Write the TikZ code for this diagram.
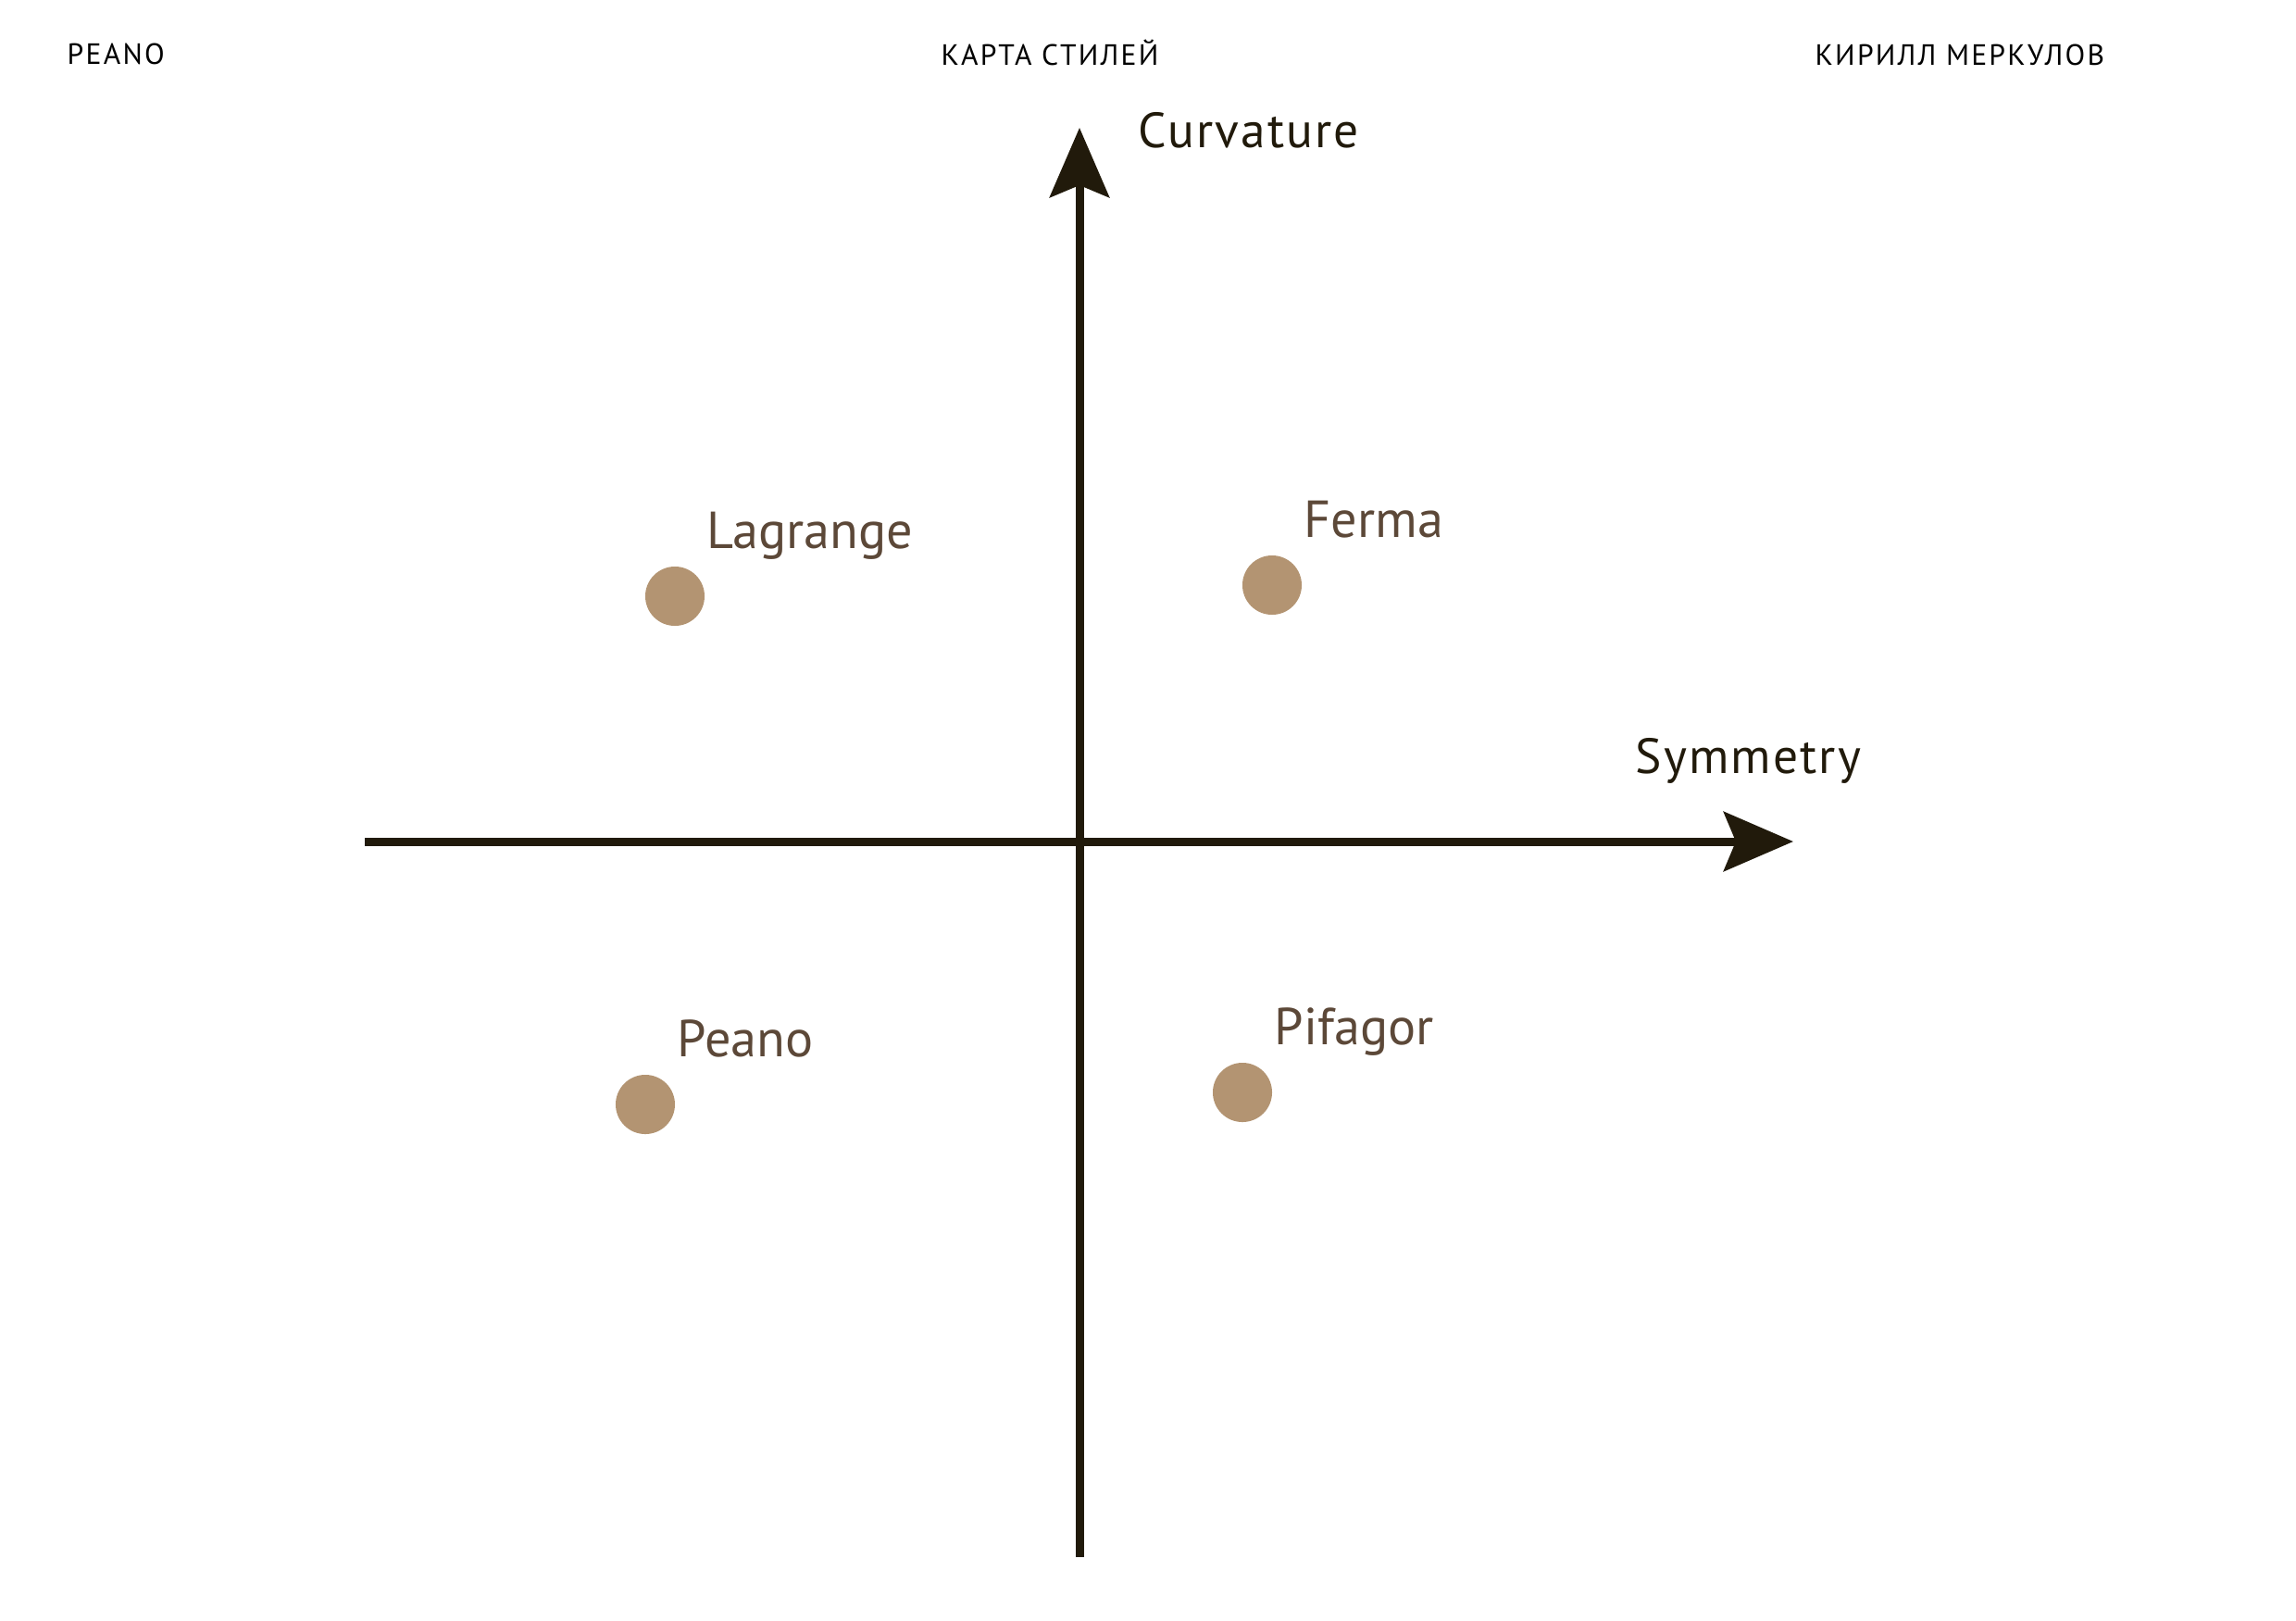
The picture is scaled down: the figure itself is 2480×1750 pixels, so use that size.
\documentclass[tikz,border=0pt]{standalone}
\usepackage{fontspec}
\setmainfont{PT Sans}
\usetikzlibrary{arrows.meta}
\definecolor{axisdark}{HTML}{211A0B}
\definecolor{dotbrown}{HTML}{B39472}
\definecolor{labelbrown}{HTML}{5C4838}

\begin{document}
\begin{tikzpicture}[x=0.01cm, y=-0.01cm,
    axis/.style={draw=axisdark, line width=0.09cm,
        -{Stealth[length=0.75cm, width=0.64cm, inset=0.13cm]}},
    pt/.style={circle, fill=dotbrown, minimum size=0.64cm, inner sep=0pt},
    lbl/.style={text=labelbrown, anchor=base west, inner sep=0pt,
        font=\fontsize{16}{19}\selectfont},
    axlbl/.style={text=axisdark, anchor=base west, inner sep=0pt,
        font=\fontsize{15.2}{18}\selectfont\addfontfeatures{LetterSpace=4}},
    head/.style={text=black, anchor=base west, inner sep=0pt,
        font=\fontsize{9}{11}\selectfont\addfontfeatures{LetterSpace=7}}]
    \useasboundingbox (0,0) rectangle (2480,1750);
    % header
    \node[head] (hleft) at (72,69) {PEANO};
    \node[head] (hmid) at (1016,70) {КАРТА СТИЛЕЙ};
    \node[head] (hright) at (1960,70) {КИРИЛЛ МЕРКУЛОВ};
    % axes
    \coordinate (xstart) at (394,909);
    \coordinate (xend) at (1937,909);
    \coordinate (ystart) at (1166,1682);
    \coordinate (yend) at (1166,138);
    \draw[axis] (xstart) -- (xend);
    \draw[axis] (ystart) -- (yend);
    \node[axlbl] (curv) at (1229,159) {Curvature};
    \node[axlbl] (symm) at (1766,835) {Symmetry};
    % styles
    \foreach \name/\px/\py/\txt in {lagrange/729/644/Lagrange, ferma/1374/632/Ferma,
                                   peano/697/1193/Peano, pifagor/1342/1180/Pifagor}{
        \node[pt] (\name) at (\px,\py) {};
        \node[lbl] (\name-lbl) at ([shift={(34,-52)}]\name.center) {\txt};
    }
\end{tikzpicture}
\end{document}
